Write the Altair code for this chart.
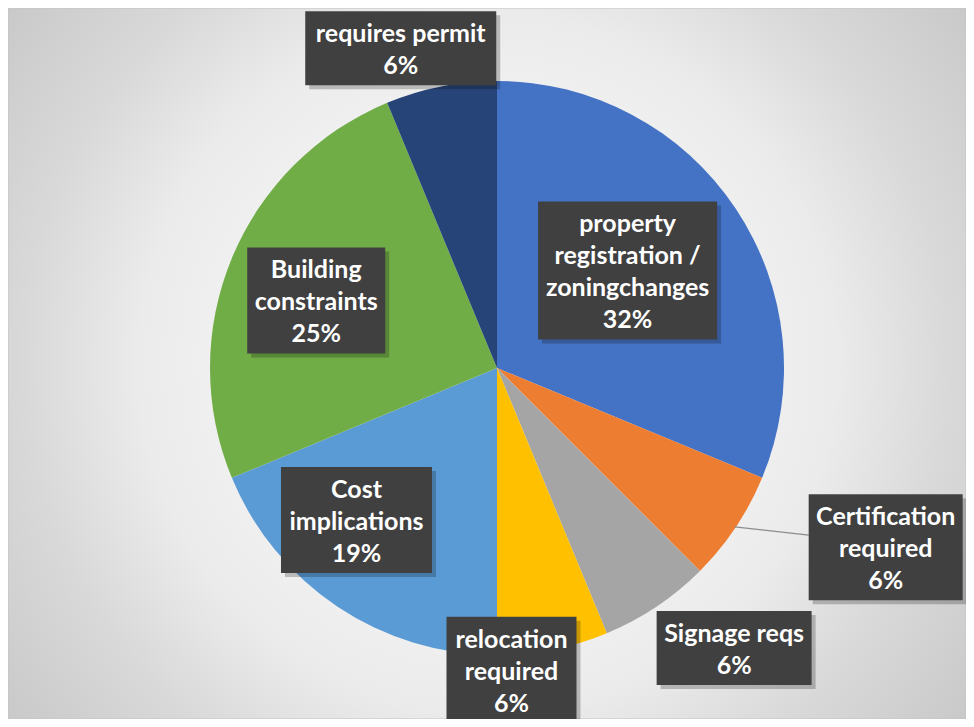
import altair as alt
import pandas as pd
import numpy as np

# ---- data ----
categories = [
    "property registration / zoningchanges",
    "Certification required",
    "Signage reqs",
    "relocation required",
    "Cost implications",
    "Building constraints",
    "requires permit",
]
values = [5, 1, 1, 1, 3, 4, 1]
pct_labels = ["32%", "6%", "6%", "6%", "19%", "25%", "6%"]
label_text = [
    "property\nregistration /\nzoningchanges",
    "Certification\nrequired",
    "Signage reqs",
    "relocation\nrequired",
    "Cost\nimplications",
    "Building\nconstraints",
    "requires permit",
]
colors = ["#4472C4", "#ED7D31", "#A5A5A5", "#FFC000", "#5B9BD5", "#70AD47", "#264478"]

# ---- layout / style ----
W, H = 958, 711
CX, CY, R = 489, 360, 287
label_shift_deg = [-3, -9, -6.5, 8.5, 9, -2, -5.5]
label_dist = [163, 428, 367, 302, 207, 193, 334]
box_w = [179, 154, 155, 130, 151, 138, 191]
leader = [False, True, False, False, False, False, False]
LINE_H = 32

df = pd.DataFrame({
    "cat": categories,
    "value": values,
    "order": list(range(len(categories))),
    "label": [t + "\n" + p for t, p in zip(label_text, pct_labels)],
})

total = float(sum(values))
cum = np.cumsum(values)
mid = (cum - np.array(values) / 2.0) / total * 2 * np.pi
la = mid + np.radians(label_shift_deg)
df["lx"] = CX + np.array(label_dist) * np.sin(la)
df["ly"] = CY - np.array(label_dist) * np.cos(la)
nlines = df["label"].str.count("\n") + 1
df["ty"] = df["ly"] - (nlines - 1) / 2.0 * LINE_H + 2
df["bh"] = nlines * LINE_H + 10
df["bx1"] = df["lx"] - np.array(box_w) / 2
df["bx2"] = df["lx"] + np.array(box_w) / 2
df["by1"] = df["ly"] - df["bh"] / 2
df["by2"] = df["ly"] + df["bh"] / 2
df["sx1"] = df["bx1"] + 4
df["sx2"] = df["bx2"] + 4
df["sy1"] = df["by1"] + 4
df["sy2"] = df["by2"] + 4
df["px"] = CX + (R - 1) * np.sin(mid)
df["py"] = CY - (R - 1) * np.cos(mid)
df["qx"] = df["bx1"]
df["qy"] = df["ly"] - 12
df["leader"] = leader

bg_grad = alt.RadialGradient(
    gradient="radial",
    stops=[
        alt.GradientStop(offset=0.0, color="#fbfbfb"),
        alt.GradientStop(offset=0.35, color="#f3f3f3"),
        alt.GradientStop(offset=0.56, color="#ebebeb"),
        alt.GradientStop(offset=0.74, color="#d9d9d9"),
        alt.GradientStop(offset=1.0, color="#c6c6c6"),
    ],
    x1=0.5, y1=0.5, r1=0, x2=0.5, y2=0.5, r2=0.65,
)

bg = alt.Chart(alt.Data(values=[{"a": 1}])).mark_rect(
    fill=bg_grad, stroke="#c4c4c4", strokeWidth=1
).encode(
    x=alt.value(0), x2=alt.value(W), y=alt.value(0), y2=alt.value(H)
)

base = alt.Chart(df)

pie = base.mark_arc(outerRadius=R).encode(
    theta=alt.Theta("value:Q", stack=True),
    order=alt.Order("order:Q"),
    color=alt.Color("cat:N", scale=alt.Scale(domain=categories, range=colors), legend=None),
    x=alt.value(CX),
    y=alt.value(CY),
)

lead = base.transform_filter("datum.leader").mark_rule(color="#8c8c8c", strokeWidth=1.3).encode(
    x=alt.X("px:Q", scale=None),
    y=alt.Y("py:Q", scale=None),
    x2="qx:Q",
    y2="qy:Q",
)

shadow = base.mark_rect(fill="#000000", opacity=0.22).encode(
    x=alt.X("sx1:Q", scale=None), x2="sx2:Q",
    y=alt.Y("sy1:Q", scale=None), y2="sy2:Q",
)

boxes = base.mark_rect(fill="#404040").encode(
    x=alt.X("bx1:Q", scale=None), x2="bx2:Q",
    y=alt.Y("by1:Q", scale=None), y2="by2:Q",
)

texts = base.mark_text(
    font="Lato", fontWeight="bold", fontSize=25, color="#ffffff",
    align="center", baseline="middle", lineBreak="\n", lineHeight=LINE_H,
).encode(
    x=alt.X("lx:Q", scale=None),
    y=alt.Y("ty:Q", scale=None),
    text="label:N",
)

chart = alt.layer(bg, pie, lead, shadow, boxes, texts).properties(
    width=W, height=H, padding=0, autosize=alt.AutoSizeParams(type="none")
).configure_view(stroke=None)

chart.save("out.html", embed_options={"renderer": "svg", "actions": False})
